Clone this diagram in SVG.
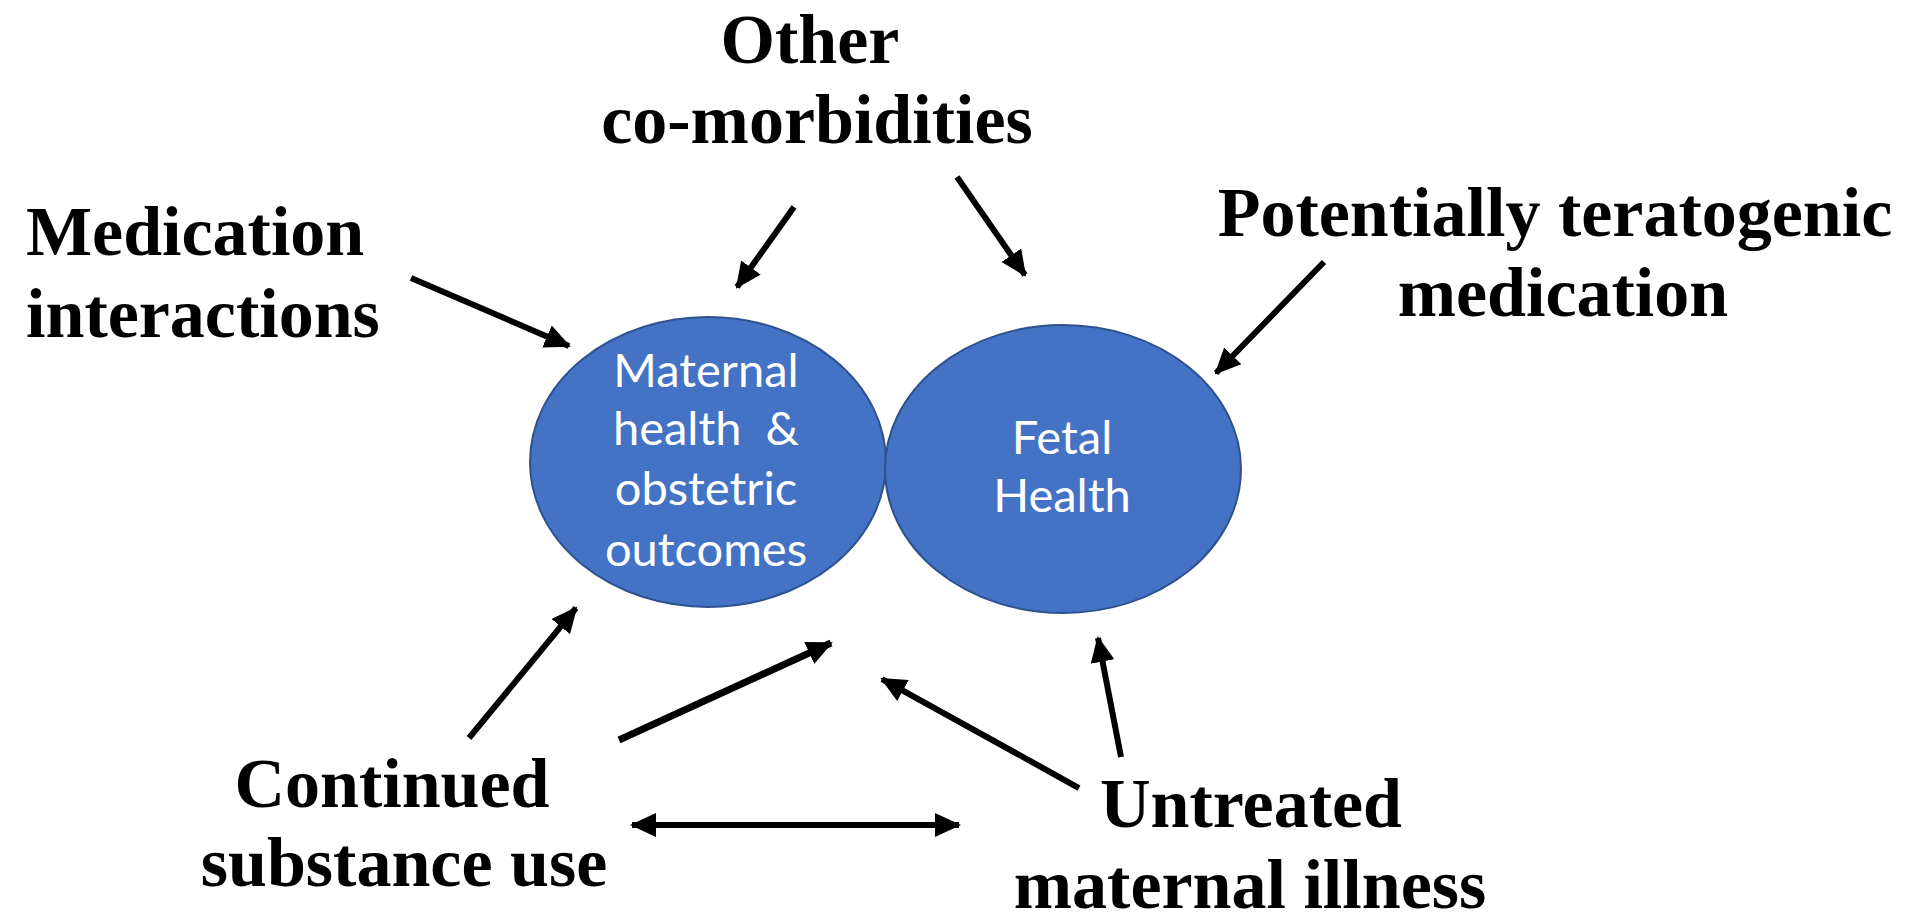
<svg xmlns="http://www.w3.org/2000/svg" width="1912" height="918" viewBox="0 0 1912 918">
<style>
.lbl{font-family:"Liberation Serif","Times New Roman",serif;font-weight:bold;font-size:70px;fill:#000}
.in{font-family:Lato,"Open Sans",sans-serif;font-size:47px;fill:#fff}
.node{fill:#4472C4;stroke:#2F528F;stroke-width:2}
.arr{stroke:#000;stroke-width:6;fill:none;marker-end:url(#ah)}
</style>
<defs>
<marker id="ah" markerUnits="userSpaceOnUse" markerWidth="26" markerHeight="26" viewBox="0 0 26 26" refX="24" refY="13" orient="auto">
<path d="M0,1 L26,13 L0,25 z" fill="#000"/>
</marker>
<marker id="as" markerUnits="userSpaceOnUse" markerWidth="26" markerHeight="26" viewBox="0 0 26 26" refX="2" refY="13" orient="auto">
<path d="M26,1 L0,13 L26,25 z" fill="#000"/>
</marker>
</defs>
<rect width="1912" height="918" fill="#fff"/>
<g id="maternal">
<ellipse class="node" cx="708" cy="462" rx="178" ry="145"/>
<text class="in" text-anchor="middle"><tspan x="706" y="387">Maternal</tspan><tspan x="706" y="445">health&#160; &amp;</tspan><tspan x="706" y="505">obstetric</tspan><tspan x="706" y="566">outcomes</tspan></text>
</g>
<g id="fetal">
<ellipse class="node" cx="1063" cy="469" rx="178" ry="144"/>
<text class="in" text-anchor="middle"><tspan x="1062" y="454">Fetal</tspan><tspan x="1062" y="512">Health</tspan></text>
</g>
<g id="other"><text class="lbl" text-anchor="middle"><tspan x="810" y="63">Other</tspan><tspan x="817" y="143">co-morbidities</tspan></text></g>
<g id="medint"><text class="lbl"><tspan x="26" y="255">Medication</tspan><tspan x="26" y="337">interactions</tspan></text></g>
<g id="terato"><text class="lbl" text-anchor="middle"><tspan x="1555" y="236">Potentially teratogenic</tspan><tspan x="1563" y="316">medication</tspan></text></g>
<g id="subst"><text class="lbl" text-anchor="middle"><tspan x="392" y="807">Continued</tspan><tspan x="404" y="886">substance use</tspan></text></g>
<g id="untreated"><text class="lbl" text-anchor="middle"><tspan x="1251" y="827">Untreated</tspan><tspan x="1250" y="908">maternal illness</tspan></text></g>
<g id="connectors">
<line class="arr" x1="411" y1="278" x2="569" y2="346"/>
<line class="arr" x1="794" y1="207" x2="737" y2="287"/>
<line class="arr" x1="957" y1="177" x2="1025" y2="275"/>
<line class="arr" x1="1324" y1="262" x2="1216" y2="373"/>
<line class="arr" x1="469" y1="738" x2="576" y2="608"/>
<line class="arr" x1="619" y1="740" x2="831" y2="643" style="stroke-width:7"/>
<line class="arr" x1="1079" y1="788" x2="882" y2="679"/>
<line class="arr" x1="1121" y1="757" x2="1098" y2="638"/>
<line class="arr" x1="632" y1="825" x2="959" y2="825" marker-start="url(#as)"/>
</g>
</svg>
